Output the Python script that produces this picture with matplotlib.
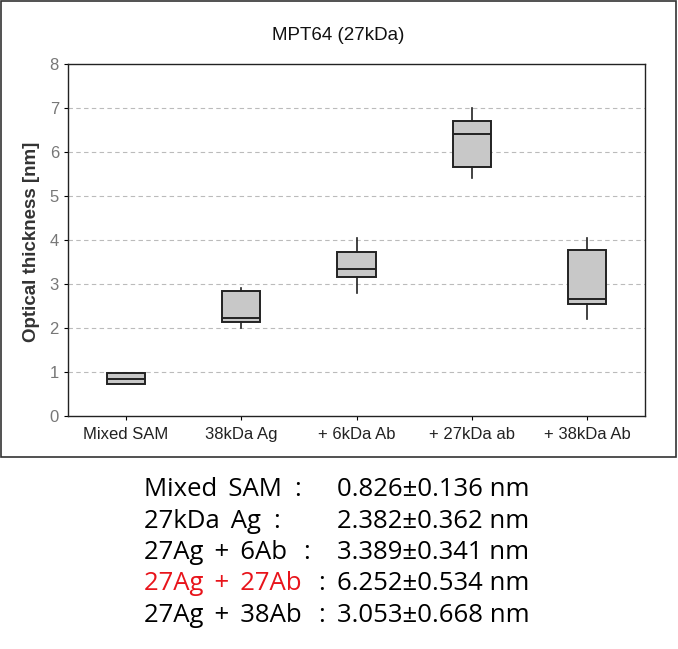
import matplotlib.pyplot as plt
from matplotlib.patches import Rectangle

# box plot summary
categories = ['Mixed SAM', '38kDa Ag', '+ 6kDa Ab', '+ 27kDa ab', '+ 38kDa Ab']
whisker_low = [0.72, 2.00, 2.80, 5.42, 2.20]
q1 = [0.72, 2.14, 3.15, 5.65, 2.55]
median = [0.83, 2.23, 3.34, 6.42, 2.67]
q3 = [0.98, 2.84, 3.72, 6.70, 3.77]
whisker_high = [0.98, 2.92, 4.04, 7.01, 4.04]

# summary text under the chart
row_names = ['Mixed SAM', '27kDa Ag', '27Ag + 6Ab', '27Ag + 27Ab', '27Ag + 38Ab']
row_values = ['0.826\u00b10.136 nm', '2.382\u00b10.362 nm', '3.389\u00b10.341 nm',
              '6.252\u00b10.534 nm', '3.053\u00b10.668 nm']
row_colors = ['black', 'black', 'black', '#e8141b', 'black']

W, H = 678, 649
fig = plt.figure(figsize=(W / 100, H / 100), dpi=100)
ax = fig.add_axes([68 / W, 1 - 416 / H, (645 - 68) / W, (416 - 64) / H])

stats = []
for i, name in enumerate(categories):
    stats.append({'label': name, 'whislo': whisker_low[i], 'q1': q1[i], 'med': median[i],
                  'q3': q3[i], 'whishi': whisker_high[i], 'fliers': []})

ax.bxp(stats, positions=range(len(categories)), widths=0.33, patch_artist=True,
       showcaps=False, showfliers=False,
       boxprops=dict(facecolor='#c8c8c8', edgecolor='#222222', linewidth=1.4),
       medianprops=dict(color='#222222', linewidth=1.4),
       whiskerprops=dict(color='#222222', linewidth=1.2), zorder=3)

ax.set_xlim(-0.5, 4.5)
ax.set_ylim(0, 8)
ax.set_yticks(range(0, 9))
ax.set_xticks(range(len(categories)))
ax.set_xticklabels(categories, fontsize=12, color='#222222', family='Liberation Sans')
for lab in ax.get_yticklabels():
    lab.set_family('Liberation Sans')
ax.tick_params(axis='y', labelsize=12, labelcolor='#777777', length=3, width=0.8)
ax.tick_params(axis='x', length=3, width=0.8, pad=5)
for yv in range(1, 8):
    ax.axhline(yv, color='#bbbbbb', linestyle=(0, (4, 3)), linewidth=0.8, zorder=1)
for sp in ax.spines.values():
    sp.set_color('#222222')
    sp.set_linewidth(1.0)

fig.text(338 / W, 1 - 35 / H, 'MPT64 (27kDa)', ha='center', va='center',
         fontsize=13.5, color='#111111', family='Liberation Sans')
fig.text(32 / W, 1 - 242 / H, 'Optical thickness [nm]', ha='center', va='center',
         rotation=90, fontsize=13.5, fontweight='bold', color='#333333', family='Liberation Sans')

# outer frame around the chart area
fig.add_artist(Rectangle((1 / W, 1 - 457 / H), 675 / W, 456 / H, transform=fig.transFigure,
                         fill=False, edgecolor='#333333', linewidth=1.2))

# the original font has wider spaces; pad them with a thin space
fonts = ['Open Sans', 'DejaVu Sans']
colon_x = [294, 273, 303, 318, 318]
for i in range(len(row_names)):
    y = 1 - (490 + i * 31.3) / H
    fig.text(144 / W, y, row_names[i].replace(' ', ' \u2009'), ha='left', va='center',
             fontsize=18.5, color=row_colors[i], family=fonts)
    fig.text(colon_x[i] / W, y, ':', ha='left', va='center', fontsize=18.5,
             color='black', family=fonts)
    fig.text(337 / W, y, row_values[i], ha='left', va='center', fontsize=18.5,
             color='black', family=fonts)

fig.savefig('out.png', dpi=100)
